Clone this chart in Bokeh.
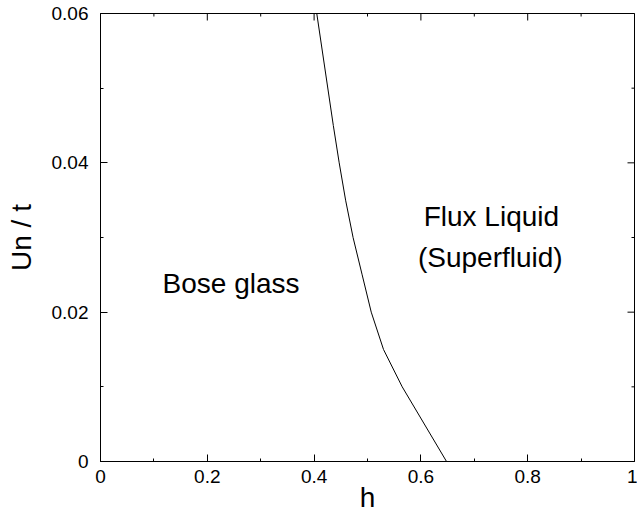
import math
from bokeh.plotting import figure
from bokeh.models import Range1d, FixedTicker, ColumnDataSource
from bokeh.core.properties import value
from bokeh.embed import file_html
from bokeh.resources import INLINE

# Phase boundary data
boundary_h = [0.648, 0.565, 0.530, 0.507, 0.490, 0.473, 0.459, 0.447, 0.436, 0.405]
boundary_U = [0.0, 0.010, 0.015, 0.020, 0.025, 0.030, 0.035, 0.040, 0.045, 0.060]

# Axis limits, tick values / labels
x_min, x_max = 0.0, 1.0
y_min, y_max = 0.0, 0.06
x_ticks = [0, 0.2, 0.4, 0.6, 0.8, 1.0]
x_tick_labels = ["0", "0.2", "0.4", "0.6", "0.8", "1"]
x_minor = [0.1, 0.3, 0.5, 0.7, 0.9]
y_ticks = [0, 0.02, 0.04, 0.06]
y_tick_labels = ["0", "0.02", "0.04", "0.06"]
y_minor = [0.01, 0.03, 0.05]

# Region annotations
label_text = ["Bose glass", "Flux Liquid", "(Superfluid)"]
label_h = [0.2444, 0.732, 0.730]
label_U = [0.0238, 0.03285, 0.0273]

FONT = "Liberation Sans"

p = figure(width=637, height=517, output_backend="svg", toolbar_location=None,
           x_range=Range1d(x_min, x_max), y_range=Range1d(y_min, y_max),
           min_border_left=100, min_border_right=3, min_border_top=13, min_border_bottom=56)
p.grid.visible = False
p.outline_line_color = "black"
p.outline_line_width = 1
p.background_fill_color = "white"
p.border_fill_color = "white"

p.line(boundary_h, boundary_U, line_color="black", line_width=1)

src = ColumnDataSource(dict(x=label_h, y=label_U, t=label_text))
p.text(x="x", y="y", text="t", source=src, text_font=value(FONT), text_font_size="28px",
       text_align="center", text_baseline="alphabetic", text_color="black")

# Mirrored inward ticks on the top and right edges (clipped to the frame)
p.scatter(x_ticks, [y_max] * len(x_ticks), marker="dash", angle=math.pi / 2,
          size=14, line_color="black", line_width=1)
p.scatter(x_minor, [y_max] * len(x_minor), marker="dash", angle=math.pi / 2,
          size=6, line_color="black", line_width=1)
p.scatter([x_max] * len(y_ticks), y_ticks, marker="dash",
          size=14, line_color="black", line_width=1)
p.scatter([x_max] * len(y_minor), y_minor, marker="dash",
          size=6, line_color="black", line_width=1)

def style_axis(ax, ticks, minor, labels):
    ax.ticker = FixedTicker(ticks=ticks, minor_ticks=minor)
    ax.major_tick_in = 7
    ax.major_tick_out = 0
    ax.minor_tick_in = 3
    ax.minor_tick_out = 0
    ax.axis_line_color = "black"
    ax.major_tick_line_color = "black"
    ax.minor_tick_line_color = "black"
    ax.major_label_overrides = {t: l for t, l in zip(ticks, labels)}
    ax.major_label_text_font = FONT
    ax.major_label_text_font_size = "19px"
    ax.major_label_text_color = "black"
    ax.axis_label_text_font = FONT
    ax.axis_label_text_font_size = "28px"
    ax.axis_label_text_font_style = "normal"
    ax.axis_label_text_color = "black"

xa = p.xaxis[0]
ya = p.yaxis[0]
style_axis(xa, x_ticks, x_minor, x_tick_labels)
style_axis(ya, y_ticks, y_minor, y_tick_labels)
xa.axis_label = "h"
ya.axis_label = "Un / t"
xa.major_label_standoff = 8
xa.axis_label_standoff = -4
ya.major_label_standoff = 12
ya.axis_label_standoff = 12
ya.major_label_orientation = "horizontal"

open("out.html", "w").write(file_html(p, INLINE))
